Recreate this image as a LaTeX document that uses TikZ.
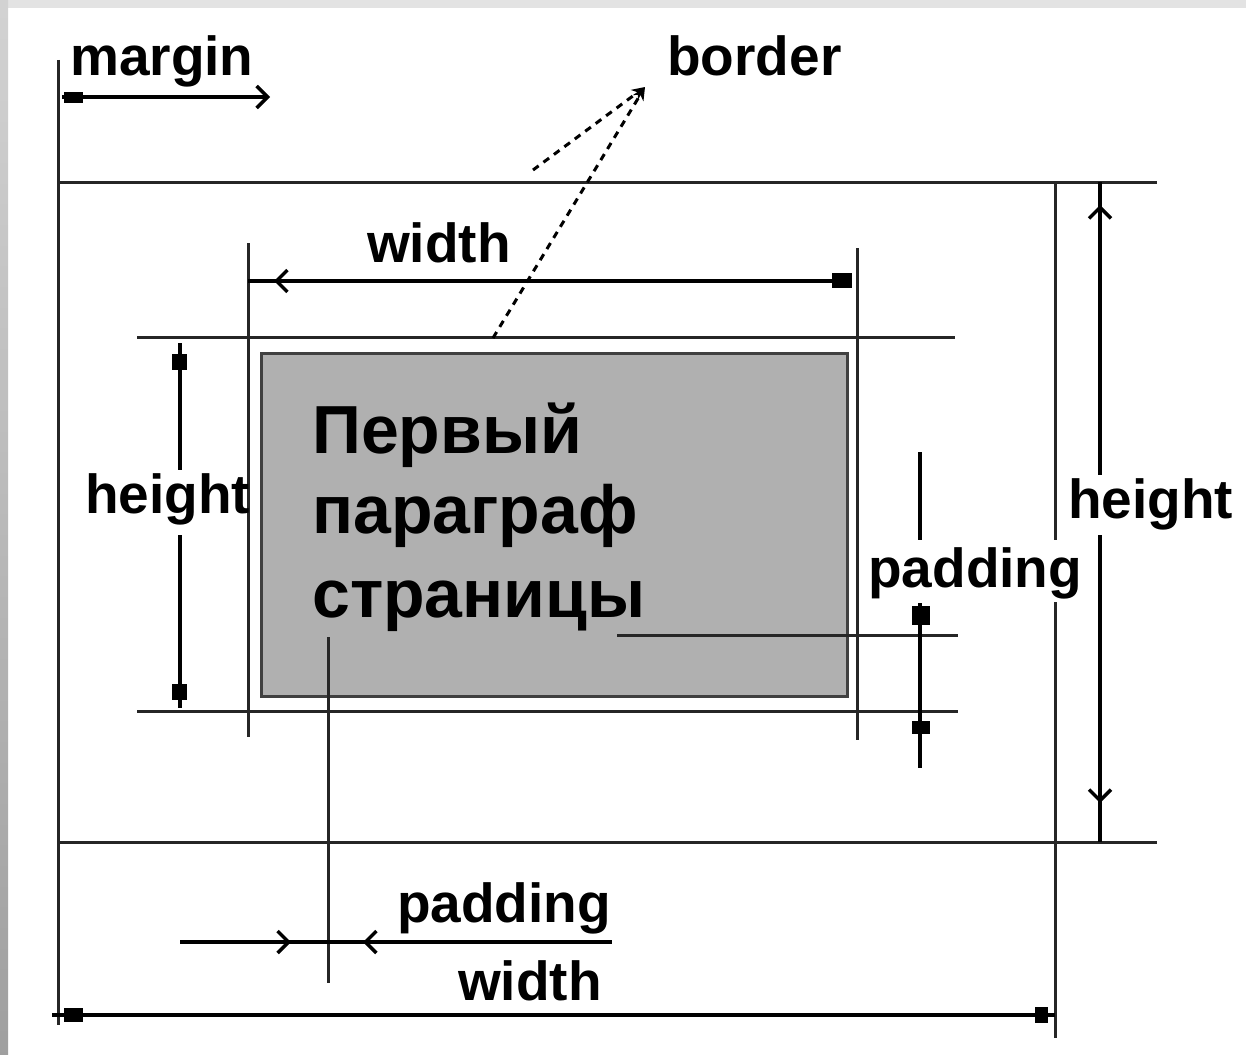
\documentclass[tikz,border=0pt]{standalone}
\usepackage{fontspec}
\setmainfont{Liberation Sans}
\usetikzlibrary{arrows.meta}
\begin{document}
\begin{tikzpicture}[x=1pt,y=-1pt,
  ext/.style={draw=black!85,line width=3pt},
  dim/.style={draw=black,line width=3.5pt},
  dsh/.style={draw=black,line width=3pt,dash pattern=on 7pt off 6pt},
  lbl/.style={font=\fontsize{55}{60}\selectfont\bfseries,inner sep=0pt,anchor=base west},
  ptxt/.style={font=\fontsize{68}{80}\selectfont\bfseries,inner sep=0pt,anchor=base west},
  sq/.style={fill=black},
  barb/.style={-{Straight Barb[length=11pt,width=22pt,line width=3.5pt]}},
  smallbarb/.style={-{Stealth[length=13pt,width=12pt,inset=4pt]}}
]
\useasboundingbox (0,0) rectangle (1246,1054);
% frame
\fill[white] (0,0) rectangle (1246,1054);
\shade[top color=gray!22,bottom color=gray!22] (0,0) rectangle (1246,8);
\shade[top color=gray!35,bottom color=gray!75] (0,0) rectangle (8,1054);

% outer extension lines
\coordinate (L1) at (58,60);   \coordinate (L2) at (58,1025);
\coordinate (T1) at (58,182);  \coordinate (T2) at (1157,182);
\coordinate (B1) at (58,842);  \coordinate (B2) at (1157,842);
\coordinate (R1) at (1055,182); \coordinate (R2) at (1055,540);
\coordinate (R3) at (1055,602); \coordinate (R4) at (1055,1038);
\draw[ext] (L1) -- (L2);
\draw[ext] (T1) -- (T2);
\draw[ext] (B1) -- (B2);
\draw[ext] (R1) -- (R2);
\draw[ext] (R3) -- (R4);

% inner extension lines
\coordinate (H1a) at (137,337); \coordinate (H1b) at (955,337);
\coordinate (H2a) at (137,711); \coordinate (H2b) at (958,711);
\coordinate (V1a) at (248,243); \coordinate (V1b) at (248,737);
\coordinate (V2a) at (857,248); \coordinate (V2b) at (857,740);
\draw[ext] (H1a) -- (H1b);
\draw[ext] (H2a) -- (H2b);
\draw[ext] (V1a) -- (V1b);
\draw[ext] (V2a) -- (V2b);

% content box
\node[draw=black!75,line width=3pt,fill=black!31,minimum width=586pt,minimum height=343pt,inner sep=0pt,anchor=north west] (box) at (260,352) {};
\node[ptxt] (t1) at (312,453) {Первый};
\node[ptxt] (t2) at (312,533) {параграф};
\node[ptxt] (t3) at (312,617) {страницы};

% labels
\node[lbl] (margin) at (70,76) {margin};
\node[lbl] (border) at (667,76) {border};
\node[lbl] (wtop) at (367,262) {width};
\node[lbl] (hleft) at (85,513) {height};
\node[lbl] (hright) at (1068,518) {height};
\node[lbl] (pright) at (868,587) {padding};
\node[lbl] (pbot) at (397,922) {padding};
\node[lbl] (wbot) at (458,1000) {width};

% margin arrow
\coordinate (M1) at (62,97); \coordinate (M2) at (270,97);
\draw[dim,barb] (M1) -- (M2);
\fill[sq] (64,92) rectangle (83,103);

% border dashed leaders
\coordinate (Bt) at (645,87);
\coordinate (Bd1) at (533,170); \coordinate (Bd2) at (493,338);
\draw[dsh,smallbarb] (Bd1) -- (Bt);
\draw[dsh,smallbarb] (Bd2) -- (Bt);

% top width arrow
\coordinate (W1) at (248,281); \coordinate (W2) at (852,281);
\coordinate (W3) at (300,281); \coordinate (W4) at (274,281);
\draw[dim] (W1) -- (W2);
\draw[dim,barb] (W3) -- (W4);
\fill[sq] (832,273) rectangle (852,288);

% left height arrow
\coordinate (LH1) at (180,343); \coordinate (LH2) at (180,470);
\coordinate (LH3) at (180,535); \coordinate (LH4) at (180,708);
\draw[dim] (LH1) -- (LH2);
\draw[dim] (LH3) -- (LH4);
\fill[sq] (172,354) rectangle (187,370);
\fill[sq] (172,684) rectangle (187,700);

% right height arrow
\coordinate (RH1) at (1100,182); \coordinate (RH2) at (1100,475);
\coordinate (RH3) at (1100,535); \coordinate (RH4) at (1100,842);
\draw[dim] (RH1) -- (RH2);
\draw[dim] (RH3) -- (RH4);
\draw[dim,barb] (1100,240) -- (1100,205);
\draw[dim,barb] (1100,770) -- (1100,803);

% padding line from text
\coordinate (P1) at (617,635); \coordinate (P2) at (958,635);
\draw[ext] (P1) -- (P2);
\coordinate (PV1) at (328,637); \coordinate (PV2) at (328,983);
\draw[ext] (PV1) -- (PV2);

% right padding dimension
\coordinate (RP1) at (920,452); \coordinate (RP2) at (920,540);
\coordinate (RP3) at (920,603); \coordinate (RP4) at (920,768);
\draw[dim] (RP1) -- (RP2);
\draw[dim] (RP3) -- (RP4);
\fill[sq] (912,606) rectangle (930,625);
\fill[sq] (912,721) rectangle (930,734);

% bottom padding dimension
\coordinate (BP1) at (180,942); \coordinate (BP2) at (612,942);
\draw[dim] (BP1) -- (BP2);
\draw[dim,barb] (260,942) -- (291,942);
\draw[dim,barb] (395,942) -- (363,942);

% bottom width arrow
\coordinate (BW1) at (52,1015); \coordinate (BW2) at (1055,1015);
\draw[dim] (BW1) -- (BW2);
\fill[sq] (64,1008) rectangle (83,1022);
\fill[sq] (1035,1007) rectangle (1048,1023);
\end{tikzpicture}
\end{document}
